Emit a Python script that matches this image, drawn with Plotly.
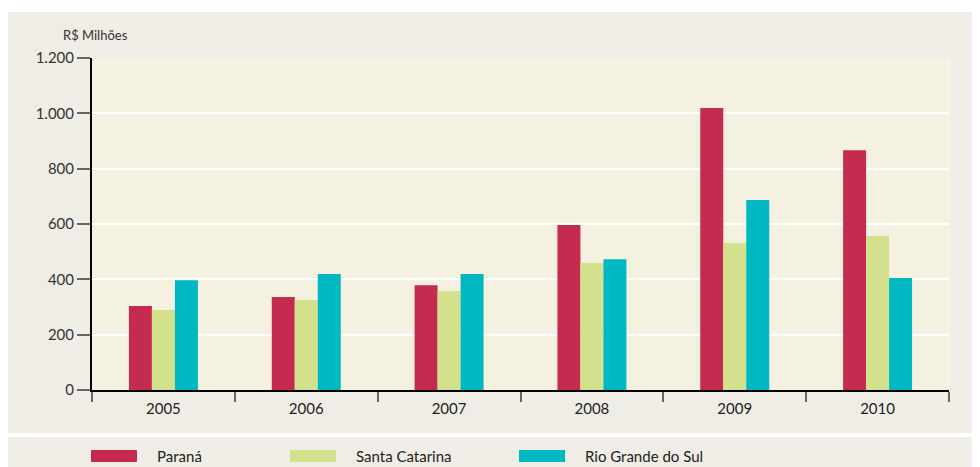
import plotly.graph_objects as go

years = ["2005", "2006", "2007", "2008", "2009", "2010"]
series_names = ["Paraná", "Santa Catarina", "Rio Grande do Sul"]
parana = [304, 336, 379, 596, 1019, 867]
santa_catarina = [289, 325, 358, 459, 531, 557]
rio_grande_do_sul = [397, 419, 419, 473, 687, 405]
colors = ["#C42B4E", "#D4E18C", "#00B8C1"]
y_ticks = [0, 200, 400, 600, 800, 1000, 1200]
y_ticktext = ["0", "200", "400", "600", "800", "1.000", "1.200"]

FONT = "Lato, 'Open Sans', sans-serif"
fig = go.Figure()
for name, vals, col in zip(series_names, [parana, santa_catarina, rio_grande_do_sul], colors):
    fig.add_trace(go.Bar(x=years, y=vals, name=name, marker=dict(color=col, line=dict(width=0))))

OFF = 8  # default page body margin
W, H = 980 - OFF, 467 - OFF
L, R, T, B = 92 - OFF, 31, 58 - OFF, 77
pw, ph = W - L - R, H - T - B

def px(x):
    # page x -> paper x
    return (x - OFF - L) / pw

def py(y):
    # page y -> paper y
    return (H - B - (y - OFF)) / ph

shapes = [
    dict(type="rect", xref="paper", yref="paper", x0=px(0), x1=px(990), y0=py(12), y1=py(0),
         fillcolor="white", line=dict(width=0), layer="below"),
    dict(type="rect", xref="paper", yref="paper", x0=px(0), x1=px(990), y0=py(437), y1=py(433),
         fillcolor="white", line=dict(width=0), layer="below"),
    dict(type="line", xref="paper", yref="paper", x0=1, x1=1, y0=0, y1=1,
         line=dict(color="#FBF8E6", width=1)),
]
annotations = [
    dict(text="R$ Milhões", xref="paper", yref="paper", x=px(130), y=py(35), xanchor="right",
         yanchor="middle", showarrow=False, font=dict(family=FONT, size=13, color="#333")),
]
leg_x = [91, 290, 519]
for name, col, lx in zip(series_names, colors, leg_x):
    shapes.append(dict(type="rect", xref="paper", yref="paper", x0=px(lx), x1=px(lx + 46),
                       y0=py(462), y1=py(450), fillcolor=col, line=dict(width=0)))
    annotations.append(dict(text=name, xref="paper", yref="paper", x=px(lx + 64), y=py(456),
                            xanchor="left", yanchor="middle", showarrow=False,
                            font=dict(family=FONT, size=15, color="#222")))

fig.update_layout(
    width=W, height=H,
    margin=dict(l=L, r=R, t=T, b=B, pad=0),
    paper_bgcolor="#F0EDE6",
    plot_bgcolor="#F5F1E0",
    barmode="group",
    bargap=0.517,
    bargroupgap=0,
    showlegend=False,
    separators=",.",
    font=dict(family=FONT, size=14, color="#333"),
    shapes=shapes,
    annotations=annotations,
    xaxis=dict(
        type="category", tickson="boundaries", ticks="outside", ticklen=10, tickwidth=1.5,
        tickcolor="#666", showline=True, linecolor="black", linewidth=2, showgrid=False,
        tickfont=dict(family=FONT, size=15, color="#222"), ticklabelstandoff=4,
        fixedrange=True,
    ),
    yaxis=dict(
        range=[0, 1200], tickvals=y_ticks, ticktext=y_ticktext, ticks="outside", ticklen=13,
        tickwidth=1.5, tickcolor="#666", showline=True, linecolor="black", linewidth=2,
        showgrid=True, gridcolor="#FFFFFF", gridwidth=1.5, zeroline=False,
        tickfont=dict(family=FONT, size=15, color="#333"), fixedrange=True,
    ),
)

fig.write_html("out.html")
